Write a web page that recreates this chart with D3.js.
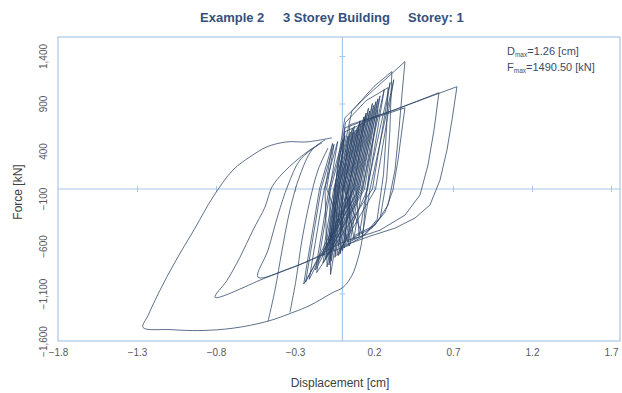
<!DOCTYPE html>
<html>
<head>
<meta charset="utf-8">
<script src="https://cdn.jsdelivr.net/npm/d3@7"></script>
<style>
  body { margin: 0; background: #fff; }
  .tick text { font-family: "Liberation Sans", Arial, sans-serif; font-size: 10px; fill: #595959; }
</style>
</head>
<body>
<div id="chart"></div>
<script>
// tick labels
var xTicks = [-1.8, -1.3, -0.8, -0.3, 0.2, 0.7, 1.2, 1.7];
var yTicks = [-1600, -1100, -600, -100, 400, 900, 1400];

// [displacement cm, force kN]
var bigLoop = [[-0.066, 539], [-0.224, 496], [-0.351, 496], [-0.477, 444], [-0.585, 338], [-0.692, 201],
  [-0.819, -84], [-0.933, -412], [-1.060, -771], [-1.155, -1067], [-1.230, -1331], [-1.262, -1457],
  [-1.091, -1480], [-0.901, -1490], [-0.692, -1465], [-0.477, -1394], [-0.313, -1299], [-0.205, -1225],
  [-0.059, -1088], [0.004, -1035], [0.061, -908], [0.099, -729], [0.124, -539], [0.149, -116],
  [0.187, 412], [0.225, 834]];
var leftLoop2 = [[-0.129, 486], [-0.205, 412], [-0.287, 306], [-0.376, 169], [-0.446, 21], [-0.490, -190],
  [-0.566, -433], [-0.648, -718], [-0.730, -961], [-0.806, -1140], [-0.477, -929], [-0.205, -750],
  [0.004, -560], [0.092, -507]];
var leftLoop3 = [[-0.154, 465], [-0.268, 306], [-0.344, 42], [-0.408, -275], [-0.471, -644], [-0.534, -929],
  [-0.332, -834], [-0.079, -665], [0.048, -591]];
var riseA = [[-0.471, -1394], [-0.427, -1067], [-0.382, -644], [-0.332, -222], [-0.268, 148], [-0.192, 412], [-0.110, 517]];
var riseB = [[-0.332, -1299], [-0.294, -961], [-0.256, -539], [-0.205, -116], [-0.154, 201], [-0.091, 433]];
var rightLoop1 = [[0.016, -591], [0.175, -496], [0.333, -412], [0.459, -306], [0.554, -169], [0.618, 95],
  [0.662, 412], [0.694, 729], [0.725, 1077], [0.365, 855], [0.016, 644], [-0.015, 95], [-0.047, -433], [-0.079, -750]];
var rightLoop2 = [[0.048, -539], [0.238, -433], [0.396, -275], [0.491, -63], [0.542, 253], [0.580, 623],
  [0.611, 1014], [0.333, 834], [0.048, 676], [0.016, 201], [-0.015, -433]];
var rightLoop3 = [[0.080, -486], [0.206, -380], [0.289, -169], [0.333, 201], [0.358, 623], [0.377, 993],
  [0.396, 1341], [0.270, 1151], [0.143, 961], [0.016, 750], [-0.028, 306], [-0.059, -327], [-0.091, -697]];
var rightLoop4 = [[0.061, -517], [0.187, -412], [0.270, -243], [0.320, -11], [0.352, 306], [0.377, 623],
  [0.396, 855], [0.206, 750], [0.016, 602], [-0.028, -11], [-0.066, -539]];
var rightLoop5 = [[0.040, -560], [0.150, -470], [0.240, -300], [0.280, 100], [0.300, 600], [0.313, 1236],
  [0.200, 1080], [0.060, 820], [-0.020, 200], [-0.070, -600]];
var rightLoop6 = [[0.020, -600], [0.130, -500], [0.220, -320], [0.260, 150], [0.280, 650], [0.289, 1067],
  [0.150, 930], [0.020, 700], [-0.040, 100], [-0.100, -720]];
// small cycles: up-crossing, top, down-crossing, bottom
var denseCycles = [
  [[0.010, 0], [0.070, 600], [-0.025, 0], [-0.080, -550]],
  [[0.040, 0], [0.110, 700], [0.005, 0], [-0.060, -650]],
  [[-0.020, 0], [0.036, 560], [-0.055, 0], [-0.125, -700]],
  [[0.070, 0], [0.150, 800], [0.035, 0], [-0.025, -600]],
  [[0.030, 0], [0.095, 650], [-0.005, 0], [-0.085, -800]],
  [[-0.050, 0], [0.002, 520], [-0.085, 0], [-0.170, -850]],
  [[0.100, 0], [0.190, 900], [0.065, 0], [0.000, -650]],
  [[0.060, 0], [0.136, 760], [0.025, 0], [-0.047, -720]],
  [[-0.010, 0], [0.050, 600], [-0.045, 0], [-0.123, -780]],
  [[0.130, 0], [0.225, 950], [0.095, 0], [0.039, -560]],
  [[0.050, 0], [0.120, 700], [0.015, 0], [-0.075, -900]],
  [[-0.080, 0], [-0.030, 500], [-0.115, 0], [-0.210, -950]],
  [[0.080, 0], [0.165, 850], [0.045, 0], [-0.025, -700]],
  [[0.160, 0], [0.265, 1050], [0.125, 0], [0.073, -520]],
  [[0.020, 0], [0.082, 620], [-0.015, 0], [-0.097, -820]],
  [[-0.110, 0], [-0.062, 480], [-0.145, 0], [-0.245, -1000]],
  [[0.110, 0], [0.198, 880], [0.075, 0], [0.013, -620]],
  [[0.040, 0], [0.112, 720], [0.005, 0], [-0.071, -760]],
  [[-0.040, 0], [0.016, 560], [-0.075, 0], [-0.163, -880]],
  [[0.190, 0], [0.302, 1120], [0.155, 0], [0.105, -500]],
  [[0.090, 0], [0.172, 820], [0.055, 0], [-0.013, -680]],
  [[0.000, 0], [0.064, 640], [-0.035, 0], [-0.109, -740]],
  [[0.140, 0], [0.238, 980], [0.105, 0], [0.045, -600]],
  [[-0.100, 0], [-0.053, 470], [-0.135, 0], [-0.233, -980]],
  [[0.070, 0], [0.148, 780], [0.035, 0], [-0.035, -700]],
  [[0.210, 0], [0.325, 1150], [0.175, 0], [0.127, -480]],
  [[0.010, 0], [0.076, 660], [-0.025, 0], [-0.089, -640]],
  [[0.120, 0], [0.212, 920], [0.085, 0], [0.027, -580]]
];

var width = 622, height = 393;
var plot = { left: 58, right: 620, top: 37, bottom: 341 };

var x = d3.scaleLinear().domain([-1.8, 1.8]).range([58, 626.8]);
var y = d3.scaleLinear().domain([-1600, 1600]).range([341, 37]);

var svg = d3.select("#chart").append("svg")
  .attr("width", width)
  .attr("height", height)
  .style("font-family", "'Liberation Sans', Arial, sans-serif");

var axisColor = "#a9c8e8";

svg.append("clipPath").attr("id", "clip")
  .append("rect")
  .attr("x", plot.left).attr("y", plot.top)
  .attr("width", plot.right - plot.left).attr("height", plot.bottom - plot.top);

// frame
svg.append("rect")
  .attr("x", plot.left).attr("y", plot.top)
  .attr("width", plot.right - plot.left).attr("height", plot.bottom - plot.top)
  .attr("fill", "none").attr("stroke", axisColor).attr("stroke-width", 1.2);

// zero lines with small ticks
var zeroX = svg.append("g")
  .attr("transform", "translate(0," + (y(0) - 3) + ")")
  .call(d3.axisBottom(x).tickValues(xTicks.slice(1)).tickSize(6).tickFormat(""));
zeroX.select(".domain").remove();
zeroX.selectAll("line").attr("stroke", axisColor);
svg.append("line")
  .attr("x1", plot.left).attr("x2", plot.right)
  .attr("y1", y(0)).attr("y2", y(0))
  .attr("stroke", axisColor).attr("stroke-width", 1.2);

var zeroY = svg.append("g")
  .attr("transform", "translate(" + (x(0) - 3) + ",0)")
  .call(d3.axisRight(y).tickValues(yTicks.slice(1)).tickSize(6).tickFormat(""));
zeroY.select(".domain").remove();
zeroY.selectAll("line").attr("stroke", axisColor);
svg.append("line")
  .attr("x1", x(0)).attr("x2", x(0))
  .attr("y1", plot.top).attr("y2", plot.bottom)
  .attr("stroke", axisColor).attr("stroke-width", 1.2);

// tick labels
var xAxis = svg.append("g")
  .attr("transform", "translate(0," + plot.bottom + ")")
  .call(d3.axisBottom(x).tickValues(xTicks).tickSize(0).tickPadding(8));
xAxis.select(".domain").remove();

var yAxis = svg.append("g")
  .attr("transform", "translate(" + plot.left + ",0)")
  .call(d3.axisLeft(y).tickValues(yTicks).tickSize(0));
yAxis.select(".domain").remove();
yAxis.selectAll("text")
  .attr("x", null).attr("dy", null)
  .attr("text-anchor", "middle")
  .attr("transform", "translate(-11,0) rotate(-90)");

// hysteresis curves
var line = d3.line()
  .x(function (d) { return x(d[0]); })
  .y(function (d) { return y(d[1]); });

var curves = svg.append("g").attr("clip-path", "url(#clip)")
  .attr("fill", "none")
  .attr("stroke", "#2c4468")
  .attr("stroke-width", 0.9)
  .attr("stroke-opacity", 0.85)
  .attr("stroke-linejoin", "round");

// envelope curves are smooth, reversals sharp
[bigLoop, leftLoop2, leftLoop3, riseA, riseB].forEach(function (pts) {
  curves.append("path").datum(pts).attr("d", line.curve(d3.curveCatmullRom.alpha(0.5)));
});
[rightLoop1, rightLoop2, rightLoop3, rightLoop4, rightLoop5, rightLoop6].forEach(function (pts) {
  curves.append("path").datum(pts).attr("d", line.curve(d3.curveLinear));
});
curves.append("path").datum(d3.merge(denseCycles)).attr("d", line.curve(d3.curveLinear));

// title
var title = svg.append("text")
  .attr("y", 22)
  .attr("font-size", 13)
  .attr("font-weight", "bold")
  .attr("fill", "#34507e");
title.append("tspan").attr("x", 200).text("Example 2");
title.append("tspan").attr("x", 283).text("3 Storey Building");
title.append("tspan").attr("x", 408).text("Storey: 1");

// axis titles
svg.append("text")
  .attr("x", 340).attr("y", 387)
  .attr("text-anchor", "middle")
  .attr("font-size", 12)
  .attr("fill", "#404040")
  .text("Displacement [cm]");

svg.append("text")
  .attr("transform", "translate(22,192) rotate(-90)")
  .attr("text-anchor", "middle")
  .attr("font-size", 12)
  .attr("fill", "#404040")
  .text("Force [kN]");

// max values box
var note = svg.append("g").attr("font-size", 11).attr("fill", "#3c4a66");
var t1 = note.append("text").attr("x", 507).attr("y", 55);
t1.append("tspan").text("D");
t1.append("tspan").attr("font-size", 6.5).attr("dy", 2).text("max");
t1.append("tspan").attr("dy", -2).text("=1.26 [cm]");
var t2 = note.append("text").attr("x", 507).attr("y", 71);
t2.append("tspan").text("F");
t2.append("tspan").attr("font-size", 6.5).attr("dy", 2).text("max");
t2.append("tspan").attr("dy", -2).text("=1490.50 [kN]");
</script>
</body>
</html>
